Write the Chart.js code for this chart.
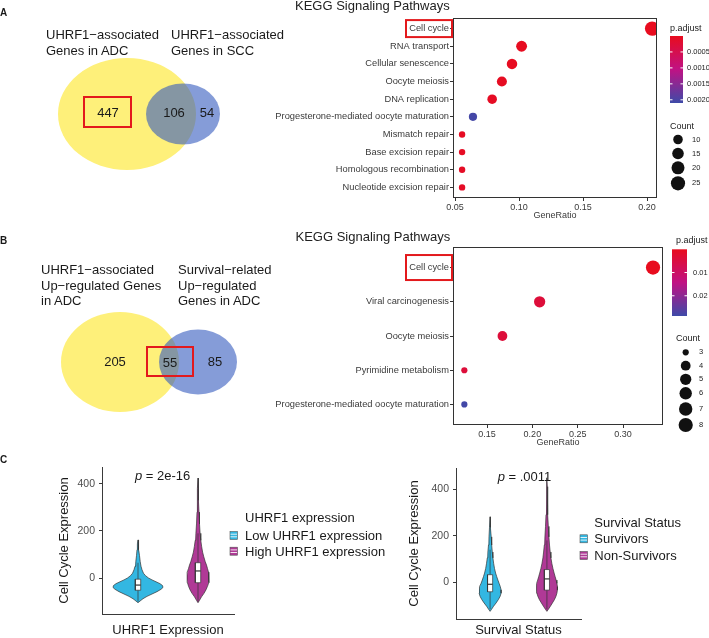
<!DOCTYPE html>
<html><head><meta charset="utf-8">
<script src="https://cdn.jsdelivr.net/npm/chart.js@4.4.1/dist/chart.umd.min.js"></script>
<style>
html,body{margin:0;padding:0;background:#fff;}
body{width:709px;height:638px;position:relative;overflow:hidden;font-family:"Liberation Sans",Arial,sans-serif;}
canvas{position:absolute;}
.t{position:absolute;white-space:nowrap;color:#1a1a1a;}
</style></head><body>
<script>
// ================= DATA =================
// Panel A – Venn
const vennA_setLeft = ['UHRF1−associated', 'Genes in ADC'];
const vennA_setRight = ['UHRF1−associated', 'Genes in SCC'];
const vennA_counts = [447, 106, 54];          // left only, overlap, right only
const vennA_highlight = 0;                    // index of boxed count
// Panel A – KEGG dot plot
const keggA_pathways = ['Cell cycle','RNA transport','Cellular senescence','Oocyte meiosis','DNA replication',
  'Progesterone-mediated oocyte maturation','Mismatch repair','Base excision repair','Homologous recombination','Nucleotide excision repair'];
const keggA_geneRatio = [0.204, 0.102, 0.0945, 0.0866, 0.079, 0.064, 0.0555, 0.0555, 0.0555, 0.0555];
const keggA_count     = [26, 13, 12, 11, 10, 8, 7, 7, 7, 7];
const keggA_padj      = [0.00001, 0.00002, 0.00003, 0.00004, 0.00006, 0.00205, 0.00005, 0.00006, 0.00007, 0.00008];
const keggA_xTicks    = [0.05, 0.10, 0.15, 0.20];
const keggA_padjTicks = [0.0005, 0.0010, 0.0015, 0.0020];
const keggA_countTicks= [10, 15, 20, 25];
// Panel B – Venn
const vennB_setLeft = ['UHRF1−associated', 'Up−regulated Genes', 'in ADC'];
const vennB_setRight = ['Survival−related', 'Up−regulated', 'Genes in ADC'];
const vennB_counts = [205, 55, 85];
const vennB_highlight = 1;
// Panel B – KEGG dot plot
const keggB_pathways = ['Cell cycle','Viral carcinogenesis','Oocyte meiosis','Pyrimidine metabolism','Progesterone-mediated oocyte maturation'];
const keggB_geneRatio = [0.333, 0.208, 0.167, 0.125, 0.125];
const keggB_count     = [8, 5, 4, 3, 3];
const keggB_padj      = [0.00005, 0.004, 0.004, 0.004, 0.0282];
const keggB_xTicks    = [0.15, 0.20, 0.25, 0.30];
const keggB_padjTicks = [0.01, 0.02];
const keggB_countTicks= [3, 4, 5, 6, 7, 8];
const keggTitle = 'KEGG Signaling Pathways';
const keggHighlight = 'Cell cycle';
// Panel C – violins (value levels, half-width of density in px at reference scale)
const violinYTicks = [0, 200, 400];
const uhrf1Groups = ['Low UHRF1 expression', 'High UHRF1 expression'];
const lowU_levels  = [-105,-98,-88,-78,-68,-58,-48,-40,-32,-24,-16,-8,0,10,20,35,50,70,95,120,145,162];
const lowU_width   = [0,2,5,9,14,19,23,25,24.5,22,18,14,10.5,7.5,5.5,4,3,2.2,1.5,1,0.6,0];
const highU_levels = [-105,-95,-80,-65,-50,-35,-20,-5,10,25,40,55,70,90,110,135,160,190,230,280,330,380,425];
const highU_width  = [0,1.5,3.5,6,8,9.5,10.5,11,11,10.5,9.5,8.5,7.2,5.8,4.6,3.6,2.8,2.1,1.5,1,0.7,0.5,0];
const lowU_box  = [-100, -52, -30, -5, 65];   // lower whisker, Q1, median, Q3, upper whisker
const highU_box = [-100, -20, 30, 65, 190];
const uhrf1P = '2e-16';
const survGroups = ['Survivors', 'Non-Survivors'];
const surv_levels    = [-124,-115,-102,-88,-74,-60,-46,-32,-18,-4,10,25,40,60,80,105,130,160,195,235,281];
const surv_width     = [0,1.5,3.5,6,8.2,10,11,11,10.2,9,7.8,6.6,5.5,4.4,3.6,2.8,2.2,1.6,1.1,0.6,0];
const nonSurv_levels = [-124,-115,-102,-88,-74,-60,-46,-32,-18,-4,10,25,40,60,80,105,130,160,195,240,290,350,410,448];
const nonSurv_width  = [0,1.5,3.5,5.5,7.5,9,10,10.5,10.5,10,9.2,8.2,7.2,6,5,4,3.3,2.6,2,1.4,0.9,0.6,0.4,0];
const surv_box    = [-115, -40, -8, 33, 140];
const nonSurv_box = [-115, -33, 15, 55, 180];
const survP = '.0011';
// ========================================

const FONT = '"Liberation Sans", Arial, sans-serif';
Chart.defaults.font.family = FONT;
const CYAN = '#33B7E2', MAGENTA = '#B03996';
const REDBOX = '#E3191C';

function mkCanvas(left, top, w, h) {
  const c = document.createElement('canvas');
  c.width = w; c.height = h;
  c.style.left = left + 'px'; c.style.top = top + 'px';
  c.style.width = w + 'px'; c.style.height = h + 'px';
  document.body.appendChild(c);
  return c;
}
function T(x, baseline, text, size, opts = {}) {
  const d = document.createElement('div');
  d.className = 't';
  d.textContent = text;
  d.style.left = x + 'px';
  d.style.top = (baseline - 0.8465 * size) + 'px';
  d.style.fontSize = size + 'px';
  d.style.lineHeight = size + 'px';
  if (opts.bold) d.style.fontWeight = 'bold';
  if (opts.color) d.style.color = opts.color;
  document.body.appendChild(d);
}
const gradStops = [[0,[232,12,30]],[0.5,[192,18,132]],[1,[62,74,168]]];
function gradColor(t) {
  t = Math.max(0, Math.min(1, t));
  for (let i = 1; i < gradStops.length; i++) {
    if (t <= gradStops[i][0]) {
      const [t0, c0] = gradStops[i-1], [t1, c1] = gradStops[i];
      const f = (t - t0) / (t1 - t0);
      return 'rgb(' + c0.map((v,k) => Math.round(v + (c1[k]-v)*f)).join(',') + ')';
    }
  }
}
const baseOpts = {responsive:false, animation:false, devicePixelRatio:1, events:[],
  plugins:{legend:{display:false}, tooltip:{enabled:false}}};

// ---------- Venn ----------
function makeVenn(o) {
  const cv = mkCanvas(o.left, o.top, o.w, o.h);
  new Chart(cv, {
    type:'scatter',
    data:{datasets:[{data:o.counts.map((c,i)=>({x:o.labelPos[i][0]-o.left, y:o.labelPos[i][1]-o.top})), pointRadius:0}]},
    options:Object.assign({}, baseOpts, {
      layout:{padding:0},
      scales:{x:{display:false,min:0,max:o.w}, y:{display:false,min:0,max:o.h,reverse:true}}
    }),
    plugins:[{id:'venn',
      beforeDatasetsDraw(ch){
        const {ctx, scales:{x, y}} = ch;
        o.ellipses.forEach(e => {
          const cx = x.getPixelForValue(e.cx-o.left), cy = y.getPixelForValue(e.cy-o.top);
          const rx = x.getPixelForValue(e.cx-o.left+e.rx) - cx, ry = y.getPixelForValue(e.cy-o.top+e.ry) - cy;
          ctx.save(); ctx.beginPath(); ctx.ellipse(cx, cy, Math.abs(rx), Math.abs(ry), 0, 0, Math.PI*2);
          ctx.fillStyle = e.color; ctx.fill(); ctx.restore();
        });
      },
      afterDatasetsDraw(ch){
        const {ctx} = ch; const pts = ch.getDatasetMeta(0).data;
        ctx.save(); ctx.font = '13px ' + FONT; ctx.fillStyle = '#1a1a1a';
        ctx.textAlign = 'center'; ctx.textBaseline = 'middle';
        o.counts.forEach((c,i) => ctx.fillText(String(c), pts[i].x, pts[i].y + 1));
        const p = pts[o.highlight];
        ctx.strokeStyle = REDBOX; ctx.lineWidth = 2;
        ctx.strokeRect(p.x + o.box[0], p.y + o.box[1], o.box[2], o.box[3]);
        ctx.restore();
      }}]
  });
}
makeVenn({left:0, top:0, w:240, h:215, counts:vennA_counts, highlight:vennA_highlight,
  labelPos:[[108,112],[174,112],[207,112]], box:[-24,-15,47,30],
  ellipses:[{cx:127,cy:114,rx:69,ry:56,color:'rgb(254,240,122)'},{cx:183,cy:114,rx:37,ry:30.5,color:'rgba(52,90,190,0.6)'}]});
makeVenn({left:0, top:225, w:240, h:195, counts:vennB_counts, highlight:vennB_highlight,
  labelPos:[[115,361],[170,362],[215,361]], box:[-23,-15,46,29],
  ellipses:[{cx:120,cy:362,rx:59,ry:50,color:'rgb(254,240,122)'},{cx:198,cy:362,rx:39,ry:32.5,color:'rgba(52,90,190,0.6)'}]});

// ---------- KEGG dot plots ----------
function makeDot(o) {
  const cv = mkCanvas(o.left, o.top, o.w, o.h);
  const labels = o.labels;
  const rOf = c => o.rMin + (o.rMax-o.rMin)*Math.sqrt(Math.max(0,(c-o.cMin))/(o.cMax-o.cMin));
  const colOf = p => gradColor(p / o.pMax);
  const grid = {display:true, drawOnChartArea:false, drawTicks:true, tickLength:3, color:'#333', lineWidth:1};
  new Chart(cv, {
    type:'scatter',
    data:{datasets:[{data:o.ratio.map((r,i)=>({x:r, y:i})),
      pointRadius:o.count.map(rOf), pointHoverRadius:o.count.map(rOf),
      pointBackgroundColor:o.padj.map(colOf), pointBorderWidth:0, pointBorderColor:'rgba(0,0,0,0)'}]},
    options:Object.assign({}, baseOpts, {
      layout:{padding:{left:0, top:o.padT, right:o.padR, bottom:0}},
      scales:{
        x:{type:'linear', position:'bottom', min:o.xMin, max:o.xMax,
          afterBuildTicks:s=>{s.ticks = o.xTicks.map(v=>({value:v}));},
          afterFit:s=>{s.height = 24;},
          ticks:{autoSkip:false, maxRotation:0, font:{size:9}, color:'#3a3a3a', padding:1, callback:v=>v.toFixed(2)},
          grid:grid, border:{display:false},
          title:{display:true, text:'GeneRatio', font:{size:9}, color:'#3a3a3a', padding:{top:0,bottom:1}}},
        y:{type:'linear', position:'left', reverse:true, min:-0.6, max:labels.length-0.4,
          afterBuildTicks:s=>{s.ticks = labels.map((l,i)=>({value:i}));},
          afterFit:s=>{s.width = o.axisW;},
          ticks:{autoSkip:false, font:{size:9.3}, color:'#3a3a3a', padding:1, callback:v=>labels[v]},
          grid:grid, border:{display:false}}
      }
    }),
    plugins:[{id:'frameLegend', afterDraw(ch){
      const {ctx, chartArea:a, scales:{y}} = ch;
      ctx.save();
      ctx.strokeStyle = '#333'; ctx.lineWidth = 1;
      ctx.strokeRect(a.left+0.5, a.top+0.5, a.right-a.left-1, a.bottom-a.top-1);
      const hi = labels.indexOf(keggHighlight);
      const yy = y.getPixelForValue(hi);
      ctx.strokeStyle = REDBOX; ctx.lineWidth = 2;
      ctx.strokeRect(a.left - 47, yy - o.boxH/2, 46, o.boxH);
      const L = o.leg, ox = o.left, oy = o.top;
      ctx.fillStyle = '#222'; ctx.font = '9px ' + FONT; ctx.textBaseline = 'alphabetic'; ctx.textAlign = 'left';
      ctx.fillText('p.adjust', L.titleX-ox, L.titleY-oy);
      const g = ctx.createLinearGradient(0, L.barT-oy, 0, L.barB-oy);
      gradStops.forEach(s => g.addColorStop(s[0], 'rgb(' + s[1].join(',') + ')'));
      ctx.fillStyle = g;
      ctx.fillRect(L.barL-ox, L.barT-oy, L.barR-L.barL, L.barB-L.barT);
      ctx.font = '7.5px ' + FONT; ctx.textBaseline = 'middle';
      o.padjTicks.forEach(v => {
        const ty = L.barT - oy + (v/o.pMax)*(L.barB-L.barT);
        ctx.strokeStyle = '#fff'; ctx.lineWidth = 1;
        ctx.beginPath(); ctx.moveTo(L.barL-ox, ty); ctx.lineTo(L.barL-ox+2.5, ty);
        ctx.moveTo(L.barR-ox-2.5, ty); ctx.lineTo(L.barR-ox, ty); ctx.stroke();
        ctx.fillStyle = '#222'; ctx.fillText(v.toFixed(o.dec), L.tickX-ox, ty);
      });
      ctx.font = '9px ' + FONT; ctx.textBaseline = 'alphabetic';
      ctx.fillText('Count', L.titleX-ox, L.countY-oy);
      ctx.font = '7.5px ' + FONT; ctx.textBaseline = 'middle';
      o.countTicks.forEach((c,i) => {
        const cy = L.circY[i]-oy;
        ctx.fillStyle = '#111'; ctx.beginPath(); ctx.arc(L.circX-ox, cy, rOf(c), 0, Math.PI*2); ctx.fill();
        ctx.fillStyle = '#222'; ctx.fillText(String(c), L.circLX-ox, cy);
      });
      ctx.restore();
    }}]
  });
}
makeDot({left:230, top:0, w:479, h:222, padT:18, padR:52, axisW:223,
  labels:keggA_pathways, ratio:keggA_geneRatio, count:keggA_count, padj:keggA_padj,
  xTicks:keggA_xTicks, xMin:0.0484, xMax:0.2078, padjTicks:keggA_padjTicks, countTicks:keggA_countTicks, dec:4,
  cMin:7, cMax:26, rMin:3.2, rMax:7.2, pMax:0.0021, boxH:17,
  leg:{titleX:670, titleY:31, barL:670, barR:683, barT:36, barB:103, tickX:687, countY:128.5,
       circX:678, circY:[139.5,153.5,167.8,183.3], circLX:692}});
makeDot({left:230, top:225, w:479, h:224, padT:22, padR:46, axisW:223,
  labels:keggB_pathways, ratio:keggB_geneRatio, count:keggB_count, padj:keggB_padj,
  xTicks:keggB_xTicks, xMin:0.1125, xMax:0.344, padjTicks:keggB_padjTicks, countTicks:keggB_countTicks, dec:2,
  cMin:3, cMax:8, rMin:3.1, rMax:7.1, pMax:0.0287, boxH:25,
  leg:{titleX:676, titleY:243.3, barL:672, barR:687, barT:249.3, barB:316, tickX:693, countY:340.7,
       circX:685.7, circY:[352.3,365.7,379.3,393.3,409,425], circLX:699}});

// ---------- Violins ----------
const shapeFill = {id:'shapeFill', beforeDatasetDraw(ch, args){
  const ds = ch.data.datasets[args.index];
  if (!ds.fillShape) return;
  const pts = args.meta.data; const ctx = ch.ctx;
  ctx.save(); ctx.beginPath();
  pts.forEach((p,i) => i ? ctx.lineTo(p.x, p.y) : ctx.moveTo(p.x, p.y));
  ctx.closePath(); ctx.fillStyle = ds.backgroundColor; ctx.fill(); ctx.restore();
}};
function violinDatasets(center, levels, widths, k, box, color) {
  const left = levels.map((v,i)=>({x:center - widths[i]*k, y:v}));
  const right = levels.map((v,i)=>({x:center + widths[i]*k, y:v})).reverse();
  const bw = 0.09/2;
  const common = {showLine:true, pointRadius:0, borderColor:'#333', borderWidth:0.7};
  return [
    Object.assign({data:left.concat(right, [left[0]]), backgroundColor:color, fillShape:true, order:5}, common),
    Object.assign({data:[{x:center,y:box[0]},{x:center,y:box[1]}], order:4}, common),
    Object.assign({data:[{x:center,y:box[3]},{x:center,y:box[4]}], order:4}, common),
    Object.assign({data:[{x:center-bw,y:box[1]},{x:center+bw,y:box[1]},{x:center+bw,y:box[3]},{x:center-bw,y:box[3]},{x:center-bw,y:box[1]}],
      backgroundColor:'#fff', fillShape:true, order:3}, common),
    Object.assign({}, common, {data:[{x:center-bw,y:box[2]},{x:center+bw,y:box[2]}], borderWidth:1.2, order:2})
  ];
}
function makeViolin(o) {
  const cv = mkCanvas(o.left, o.top, o.w, o.h);
  let ds = [];
  o.groups.forEach((g,i) => { ds = ds.concat(violinDatasets(i+1, g.levels, g.width, 1/o.catPx, g.box, g.color)); });
  new Chart(cv, {
    type:'scatter',
    data:{datasets:ds},
    options:Object.assign({}, baseOpts, {
      layout:{padding:{left:0, top:o.padT, right:o.padR, bottom:0}},
      scales:{
        x:{type:'linear', min:0.4, max:2.6, ticks:{display:false}, grid:{display:false},
          border:{display:true, color:'#3a3a3a', width:1},
          afterFit:s=>{s.height = o.xAxisH;},
          title:{display:true, text:o.xTitle, font:{size:13}, color:'#1a1a1a', padding:{top:0,bottom:0}}},
        y:{type:'linear', min:o.yMin, max:o.yMax,
          afterBuildTicks:s=>{s.ticks = violinYTicks.map(v=>({value:v}));},
          afterFit:s=>{s.width = o.yAxisW;},
          ticks:{font:{size:10.5}, color:'#4d4d4d', padding:4},
          grid:{display:true, drawOnChartArea:false, drawTicks:true, tickLength:3, color:'#3a3a3a'},
          border:{display:true, color:'#3a3a3a', width:1},
          title:{display:true, text:'Cell Cycle Expression', font:{size:13}, color:'#1a1a1a', padding:{top:7,bottom:0}}}
      }
    }),
    plugins:[shapeFill, {id:'pLegend', afterDraw(ch){
      const ctx = ch.ctx, ox = o.left, oy = o.top;
      ctx.save();
      ctx.fillStyle = '#1a1a1a'; ctx.textBaseline = 'alphabetic'; ctx.textAlign = 'left';
      ctx.font = 'italic 13px ' + FONT;
      ctx.fillText('p', o.pX-ox, o.pY-oy);
      const w = ctx.measureText('p').width;
      ctx.font = '13px ' + FONT;
      ctx.fillText(' = ' + o.pText, o.pX-ox+w, o.pY-oy);
      ctx.fillText(o.legTitle, o.legX-ox, o.legY[0]-oy);
      o.groups.forEach((g,i) => {
        const by = o.legY[i+1]-oy;
        ctx.fillStyle = '#1a1a1a';
        ctx.fillText(g.name, o.legX-ox, by);
        const kx = o.keyX-ox, ky = by - 8.5;
        ctx.fillStyle = g.color; ctx.fillRect(kx, ky, 7.5, 8);
        ctx.strokeStyle = '#555'; ctx.lineWidth = 0.6; ctx.strokeRect(kx, ky, 7.5, 8);
        ctx.strokeStyle = 'rgba(255,255,255,0.85)'; ctx.lineWidth = 1;
        ctx.beginPath(); ctx.moveTo(kx+0.5, ky+2.7); ctx.lineTo(kx+7, ky+2.7);
        ctx.moveTo(kx+0.5, ky+5.3); ctx.lineTo(kx+7, ky+5.3); ctx.stroke();
      });
      ctx.restore();
    }}]
  });
}
makeViolin({left:50, top:455, w:340, h:183, padT:12, padR:156, yAxisW:52, xAxisH:24, catPx:60,
  yMin:-153, yMax:472, xTitle:'UHRF1 Expression', pText:uhrf1P, pX:135, pY:480,
  legTitle:'UHRF1 expression', legX:245, legY:[521.7,540,555.7], keyX:230,
  groups:[{name:uhrf1Groups[0], levels:lowU_levels, width:lowU_width, box:lowU_box, color:CYAN},
          {name:uhrf1Groups[1], levels:highU_levels, width:highU_width, box:highU_box, color:MAGENTA}]});
makeViolin({left:400, top:455, w:309, h:183, padT:13, padR:128, yAxisW:56, xAxisH:19, catPx:56.8,
  yMin:-156.7, yMax:490, xTitle:'Survival Status', pText:survP, pX:497.7, pY:481,
  legTitle:'Survival Status', legX:594.3, legY:[526.7,543.3,560], keyX:580,
  groups:[{name:survGroups[0], levels:surv_levels, width:surv_width, box:surv_box, color:CYAN},
          {name:survGroups[1], levels:nonSurv_levels, width:nonSurv_width, box:nonSurv_box, color:MAGENTA}]});

// ---------- free text ----------
T(0, 16, 'A', 10, {bold:true});
T(0, 244, 'B', 10, {bold:true});
T(0, 463.3, 'C', 10, {bold:true});
vennA_setLeft.forEach((s,i) => T(46, 39.3 + i*15.7, s, 13));
vennA_setRight.forEach((s,i) => T(171, 39.3 + i*15.7, s, 13));
vennB_setLeft.forEach((s,i) => T(41, 274.3 + i*15.6, s, 13));
vennB_setRight.forEach((s,i) => T(178, 274.3 + i*15.6, s, 13));
T(295, 9.8, keggTitle, 13, {color:'#222'});
T(295.5, 241, keggTitle, 13, {color:'#222'});
</script>
</body></html>
